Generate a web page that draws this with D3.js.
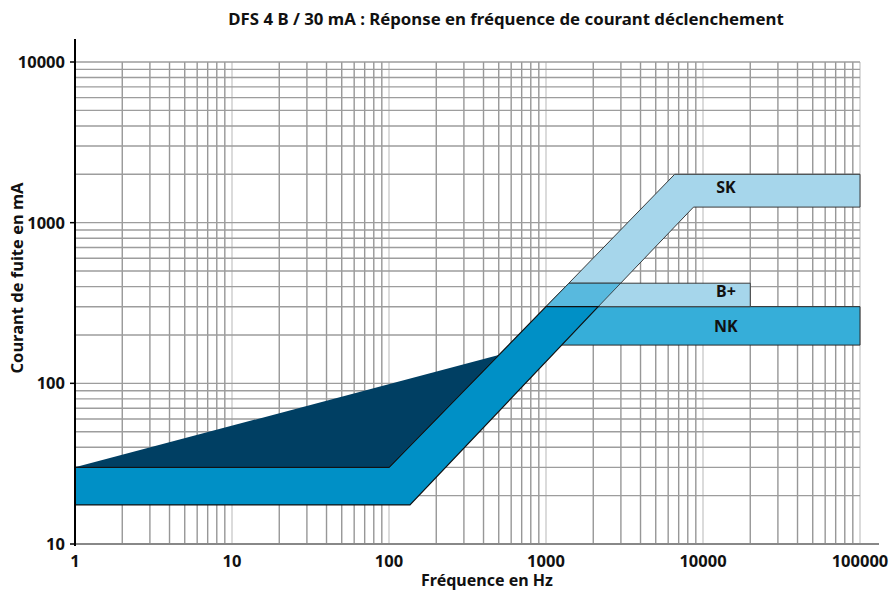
<!DOCTYPE html>
<html><head><meta charset="utf-8">
<script src="https://cdn.jsdelivr.net/npm/d3@7/dist/d3.min.js"></script>
<style>
body{margin:0;background:#fff;}
text{font-family:"Noto Sans",sans-serif;font-weight:bold;fill:#111;}
</style></head>
<body><svg id="c" width="890" height="591"></svg>
<script>
const xTicks = [1, 10, 100, 1000, 10000, 100000];
const yTicks = [10, 100, 1000, 10000];
const triangle = [[1, 30], [500, 150], [100, 30]];
const mainBand = [[1, 30], [100, 30], [1000, 300], [2150, 300], [136, 17.5], [1, 17.5]];
const nkBand = [[1000, 300], [100000, 300], [100000, 173], [1000, 173]];
const bPlusBand = [[1400, 420], [20000, 420], [20000, 300], [1000, 300]];
const skBand = [[1000, 300], [6600, 2000], [100000, 2000], [100000, 1250], [8700, 1250], [2150, 300]];
const overlap = [[1000, 300], [1400, 420], [2990, 420], [2150, 300]];
const labels = [{t: "SK", x: 14000, y: 1530}, {t: "B+", x: 14000, y: 344}, {t: "NK", x: 14000, y: 208}];
const title = "DFS 4 B / 30 mA : Réponse en fréquence de courant déclenchement";

const svg = d3.select("#c");
const x = d3.scaleLog().domain([1, 100000]).range([75, 860]);
const y = d3.scaleLog().domain([10, 10000]).range([544, 62]);

// grid
const g = svg.append("g");
const minorX = [], minorY = [];
for (let d = 1; d < 100000; d *= 10) for (let k = 2; k <= 9; k++) minorX.push(d * k);
for (let d = 10; d < 10000; d *= 10) for (let k = 2; k <= 9; k++) minorY.push(d * k);
g.selectAll(".vx").data(minorX).join("line")
  .attr("x1", d => x(d)).attr("x2", d => x(d)).attr("y1", y(10000)).attr("y2", y(10))
  .attr("stroke", "#979797").attr("stroke-width", 1.4);
g.selectAll(".vd").data(xTicks.slice(1)).join("line")
  .attr("x1", d => x(d)).attr("x2", d => x(d)).attr("y1", y(10000)).attr("y2", y(10))
  .attr("stroke", "#cccccc").attr("stroke-width", 1.4);
g.selectAll(".hy").data(minorY.concat(yTicks.slice(1))).join("line")
  .attr("x1", x(1)).attr("x2", x(100000)).attr("y1", d => y(d)).attr("y2", d => y(d))
  .attr("stroke", "#9d9d9d").attr("stroke-width", 1.4);

const line = d3.line().x(d => x(d[0])).y(d => y(d[1]));
const poly = (pts, fill, stroke, sw) => svg.append("path").attr("d", line(pts) + "Z")
  .attr("fill", fill).attr("stroke", stroke).attr("stroke-width", sw).attr("stroke-linejoin", "miter");

poly(skBand, "#a6d6eb", "#3a3a3a", 1);
poly(nkBand, "#36aed9", "#2a2a2a", 1);
poly(bPlusBand, "#a6d6eb", "#3a3a3a", 1);
poly(overlap, "#58b9de", "#2a2a2a", 0.8);
poly(mainBand, "#0090c6", "#111", 1.2);
poly(triangle, "#003f63", "none", 0);
svg.append("path").attr("d", line([[1, 30], [100, 30], [500, 150]])).attr("fill", "none")
  .attr("stroke", "#111").attr("stroke-width", 1);

svg.selectAll(".lab").data(labels).join("text")
  .attr("x", d => x(d.x)).attr("y", d => y(d.y)).attr("text-anchor", "middle")
  .attr("font-size", 16).text(d => d.t);

// axes
svg.append("line").attr("x1", x(1)).attr("x2", 879).attr("y1", y(10)).attr("y2", y(10))
  .attr("stroke", "#888").attr("stroke-width", 2);
svg.append("line").attr("x1", x(1)).attr("x2", x(1)).attr("y1", 39).attr("y2", 546)
  .attr("stroke", "#000").attr("stroke-width", 2);
svg.selectAll(".yt").data(yTicks).join("line")
  .attr("x1", x(1) - 5).attr("x2", x(1)).attr("y1", d => y(d)).attr("y2", d => y(d))
  .attr("stroke", "#000").attr("stroke-width", 1.5);
svg.selectAll(".ytl").data(yTicks).join("text")
  .attr("x", 65).attr("y", d => y(d) + 6).attr("text-anchor", "end").attr("font-size", 16.5)
  .text(d => d);
svg.selectAll(".xtl").data(xTicks).join("text")
  .attr("x", d => x(d)).attr("y", 567).attr("text-anchor", "middle").attr("font-size", 16.5)
  .text(d => d);

svg.append("text").attr("x", 487).attr("y", 586).attr("text-anchor", "middle")
  .attr("font-size", 16).text("Fréquence en Hz");
svg.append("text").attr("transform", "translate(23,278) rotate(-90)").attr("text-anchor", "middle")
  .attr("font-size", 16.5).text("Courant de fuite en mA");
svg.append("text").attr("x", 506).attr("y", 25).attr("text-anchor", "middle")
  .attr("font-size", 16.8).text(title);
</script></body></html>
